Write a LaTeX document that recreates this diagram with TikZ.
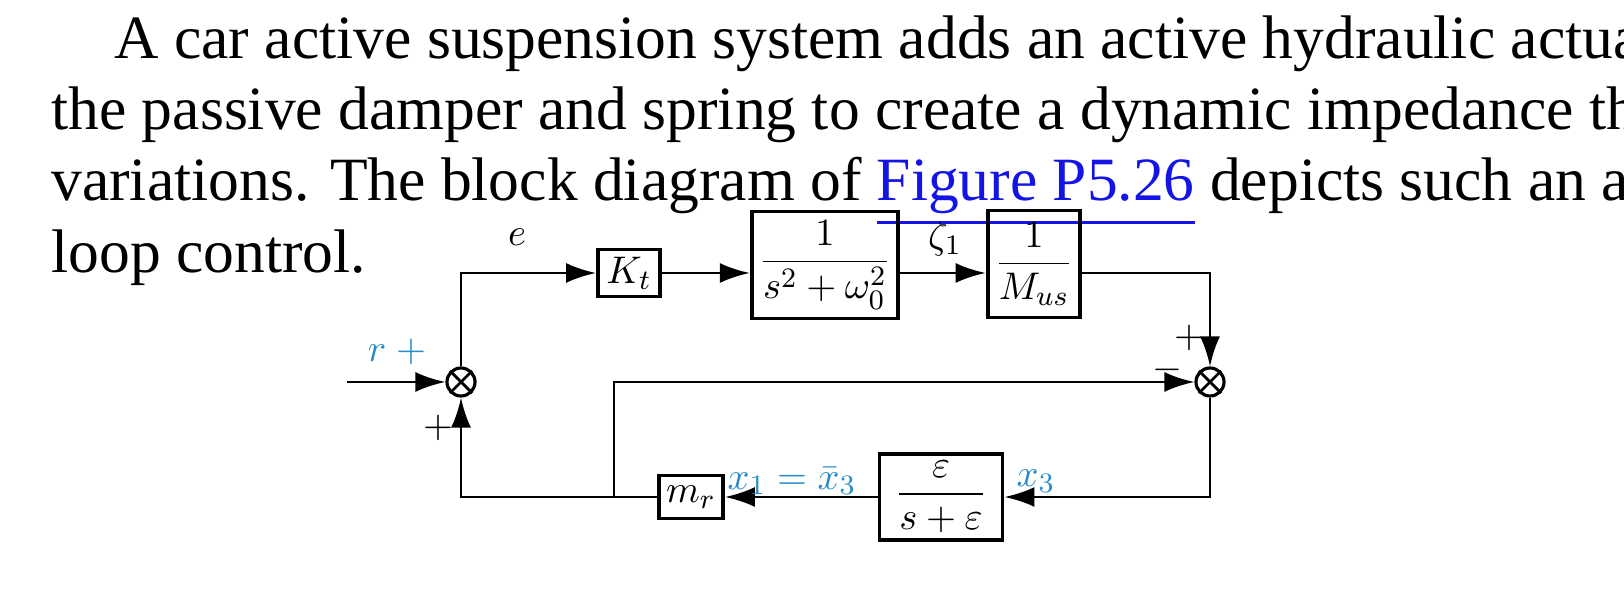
\documentclass[tikz,border=0pt]{standalone}
\usepackage{fontspec}
\setmainfont{Liberation Serif}
\usepackage{amsmath}
\usetikzlibrary{positioning,arrows.meta}
\definecolor{sigblue}{RGB}{40,140,200}
\definecolor{linkblue}{RGB}{20,20,230}

\begin{document}
\begin{tikzpicture}[x=0.01cm, y=-0.01cm, >={Latex[length=3mm,width=2mm]}, line width=0.8pt]
    \useasboundingbox (0,0) rectangle (1624,598);
    \tikzset{
        block/.style={draw, line width=1.1pt, inner sep=2pt, font=\fontsize{11}{13}\selectfont},
        summer/.style={draw, circle, minimum size=0.28cm, inner sep=0pt, line width=0.9pt},
        sig/.style={font=\fontsize{11}{13}\selectfont},
    }
    % Text
    \node [anchor=north west, align=left, inner sep=0pt,
        font=\fontsize{17.5}{20.3}\selectfont
    ]  (Para) at (50,14) {\hspace*{0.63cm}A car active suspension system adds an active hydraulic actuator in parallel with\\
the passive damper and spring to create a dynamic impedance that responds to road\\
variations. The block diagram of \textcolor{linkblue}{\underline{Figure P5.26}} depicts such an actuator with closed-\\
loop control.};

    % Summers
    \node [summer] (SumLeft) at (461,382) {};
    \node [summer] (SumRight) at (1210,382) {};
    \draw (SumLeft.north west) -- (SumLeft.south east) (SumLeft.north east) -- (SumLeft.south west);
    \draw (SumRight.north west) -- (SumRight.south east) (SumRight.north east) -- (SumRight.south west);

    % Forward path
    \node [block, minimum width=0.62cm, minimum height=0.47cm] (Gain) at (629,273) {$K_t$};
    \node [block, minimum width=1.35cm, minimum height=1.07cm] (Plant) at (825,265) {$\dfrac{1}{s^2+\omega_0^2}$};
    \node [block, minimum width=0.82cm, minimum height=1.07cm] (Mass) at (1034,264) {$\dfrac{1}{M_{us}}$};

    % Feedback path
    \node [block, minimum width=1.23cm, minimum height=0.85cm] (Filter) at (941,497) {$\dfrac{\varepsilon}{s+\varepsilon}$};
    \node [block, minimum width=0.54cm, minimum height=0.43cm] (Meas) at (691,497) {$m_r$};

    \coordinate (In) at (347,382);
    \coordinate (Tap) at (614,497);

    \draw[->] (In) -- (SumLeft.west);
    \draw[->] (SumLeft.north) |- (Gain.west);
    \draw[->] (Gain.east) -- (Gain.east -| Plant.west);
    \draw[->] (Plant.east |- Gain.east) -- (Plant.east |- Gain.east -| Mass.west);
    \draw[->] (Mass.east |- Gain.east) -| (SumRight.north);
    \draw[->] (SumRight.south) |- (Filter.east);
    \draw[->] (Filter.west) -- (Meas.east);
    \draw[->] (Meas.west) -| (SumLeft.south);
    \draw[->] (Tap) |- (SumRight.west);

    % Labels
    \node [sig] (LabelE) at (517,237) {$e$};
    \node [sig] (LabelZeta) at (945,239) {$\zeta_1$};
    \node [sig, text=sigblue] (LabelR) at (397,352) {$r\ +$};
    \node [sig] (PlusLeft) at (438,428) {$+$};
    \node [sig] (PlusRight) at (1189,338) {$+$};
    \node [sig] (MinusRight) at (1167,370) {$-$};
    \node [sig, text=sigblue] (LabelXOne) at (792,481) {$x_1=\bar{x}_3$};
    \node [sig, text=sigblue] (LabelXThree) at (1036,481) {$x_3$};
\end{tikzpicture}
\end{document}
